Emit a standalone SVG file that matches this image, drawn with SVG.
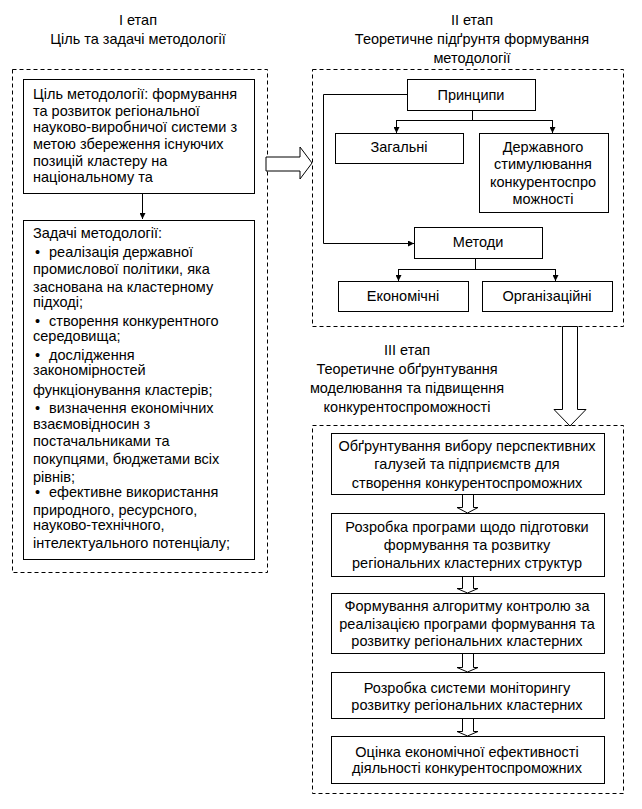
<svg xmlns="http://www.w3.org/2000/svg" width="642" height="809" viewBox="0 0 642 809">
<defs>
<style>
text{font-family:"Liberation Sans",Arial,sans-serif;font-size:14.5px;fill:#000}
.c{text-anchor:middle}
.box{fill:#fff;stroke:#000;stroke-width:1}
.dash{fill:none;stroke:#000;stroke-width:1;stroke-dasharray:4 3}
.ln{fill:none;stroke:#000;stroke-width:1}
.hol{fill:#fff;stroke:#000;stroke-width:1}
</style>
<marker id="ah" viewBox="0 0 10 10" refX="10" refY="5" markerWidth="6" markerHeight="6" orient="auto" markerUnits="userSpaceOnUse">
<path d="M0,0 L10,5 L0,10 z" fill="#000"/>
</marker>
</defs>
<rect width="642" height="809" fill="#fff"/>

<g id="stage1">
<text class="c" x="138" y="25">І етап</text>
<text class="c" x="138" y="44">Ціль та задачі методології</text>
<rect class="dash" x="12.5" y="69.5" width="255" height="503"/>
</g>

<g id="stage2">
<text class="c" x="472" y="25">ІІ етап</text>
<text class="c" x="472" y="44">Теоретичне підґрунтя формування</text>
<text class="c" x="472" y="63">методології</text>
<rect class="dash" x="312.5" y="69.5" width="311" height="257"/>
</g>

<g id="stage3">
<text class="c" x="407" y="355">ІІІ етап</text>
<text class="c" x="407" y="374">Теоретичне обґрунтування</text>
<text class="c" x="407" y="393">моделювання та підвищення</text>
<text class="c" x="407" y="412">конкурентоспроможності</text>
<rect class="dash" x="312.5" y="425.5" width="311" height="368"/>
</g>

<g id="connectors">
<path class="ln" d="M142.5,193 V219" marker-end="url(#ah)"/>
<path class="hol" d="M266,157 H300 V147 L312,163 L300,179 V171 H266 Z"/>
<path class="ln" d="M472.5,110 V120.5 M396.5,120.5 H552.5"/>
<path class="ln" d="M396.5,120 V133" marker-end="url(#ah)"/>
<path class="ln" d="M552.5,120 V133" marker-end="url(#ah)"/>
<path class="ln" d="M407,94.5 H323.5 V243.5 H414" marker-end="url(#ah)"/>
<path class="ln" d="M475.5,258 V269.5 M398.5,269.5 H555.5"/>
<path class="ln" d="M398.5,269 V281" marker-end="url(#ah)"/>
<path class="ln" d="M555.5,269 V281" marker-end="url(#ah)"/>
<path class="hol" d="M562.5,326.5 H577.5 V409.5 H586 L570,426 L554,409.5 H562.5 Z"/>
<path class="hol" d="M462.5,494 H473.5 V507.5 H478 L467.5,513 L457,507.5 H462.5 Z"/>
<path class="hol" d="M462.5,576 H473.5 V588.5 H478 L467.5,593 L457,588.5 H462.5 Z"/>
<path class="hol" d="M462.5,653 H473.5 V667.5 H478 L467.5,672 L457,667.5 H462.5 Z"/>
<path class="hol" d="M462.5,718 H473.5 V731.5 H478 L467.5,736 L457,731.5 H462.5 Z"/>
</g>

<g id="goal">
<rect class="box" x="23.5" y="79.5" width="231" height="114"/>
<text x="33" y="99">Ціль методології: формування</text>
<text x="33" y="116">та розвиток регіональної</text>
<text x="33" y="132">науково-виробничої системи з</text>
<text x="33" y="149">метою збереження існуючих</text>
<text x="33" y="166">позицій кластеру на</text>
<text x="33" y="182">національному та</text>
</g>

<g id="tasks">
<rect class="box" x="23.5" y="220.5" width="231" height="339"/>
<text x="33" y="238">Задачі методології:</text>
<text x="35" y="257">•<tspan x="49">реалізація державної</tspan></text>
<text x="33" y="274">промислової політики, яка</text>
<text x="33" y="292">заснована на кластерному</text>
<text x="33" y="307">підході;</text>
<text x="35" y="326">•<tspan x="49">створення конкурентного</tspan></text>
<text x="33" y="341">середовища;</text>
<text x="35" y="360">•<tspan x="49">дослідження</tspan></text>
<text x="33" y="375">закономірностей</text>
<text x="33" y="395">функціонування кластерів;</text>
<text x="35" y="413">•<tspan x="49">визначення економічних</tspan></text>
<text x="33" y="429">взаємовідносин з</text>
<text x="33" y="446">постачальниками та</text>
<text x="33" y="464">покупцями, бюджетами всіх</text>
<text x="33" y="482">рівнів;</text>
<text x="35" y="497">•<tspan x="49">ефективне використання</tspan></text>
<text x="33" y="515">природного, ресурсного,</text>
<text x="33" y="530">науково-технічного,</text>
<text x="33" y="548">інтелектуального потенціалу;</text>
</g>

<g id="principles">
<rect class="box" x="407.5" y="79.5" width="128" height="31"/>
<text class="c" x="471" y="100">Принципи</text>
</g>
<g id="general">
<rect class="box" x="335.5" y="133.5" width="128" height="30"/>
<text class="c" x="399" y="152">Загальні</text>
</g>
<g id="state">
<rect class="box" x="479.5" y="133.5" width="129" height="79"/>
<text class="c" x="543" y="152">Державного</text>
<text class="c" x="543" y="169">стимулювання</text>
<text class="c" x="543" y="187">конкурентоспро</text>
<text class="c" x="543" y="204">можності</text>
</g>
<g id="methods">
<rect class="box" x="414.5" y="227.5" width="128" height="31"/>
<text class="c" x="478" y="247">Методи</text>
</g>
<g id="economic">
<rect class="box" x="338.5" y="281.5" width="130" height="30"/>
<text class="c" x="403" y="301">Економічні</text>
</g>
<g id="organizational">
<rect class="box" x="482.5" y="281.5" width="130" height="30"/>
<text class="c" x="547" y="301">Організаційні</text>
</g>

<g id="s1">
<rect class="box" x="331.5" y="433.5" width="273" height="61"/>
<text class="c" x="467" y="451">Обґрунтування вибору перспективних</text>
<text class="c" x="467" y="469">галузей та підприємств для</text>
<text class="c" x="467" y="488">створення конкурентоспроможних</text>
</g>
<g id="s2">
<rect class="box" x="331.5" y="513.5" width="273" height="63"/>
<text class="c" x="467" y="532">Розробка програми щодо підготовки</text>
<text class="c" x="467" y="550">формування та розвитку</text>
<text class="c" x="467" y="568">регіональних кластерних структур</text>
</g>
<g id="s3">
<rect class="box" x="331.5" y="593.5" width="273" height="60"/>
<text class="c" x="467" y="611">Формування алгоритму контролю за</text>
<text class="c" x="467" y="629">реалізацією програми формування та</text>
<text class="c" x="467" y="646">розвитку регіональних кластерних</text>
</g>
<g id="s4">
<rect class="box" x="331.5" y="672.5" width="273" height="46"/>
<text class="c" x="467" y="693">Розробка системи моніторингу</text>
<text class="c" x="467" y="710">розвитку регіональних кластерних</text>
</g>
<g id="s5">
<rect class="box" x="331.5" y="736.5" width="273" height="47"/>
<text class="c" x="467" y="757">Оцінка економічної ефективності</text>
<text class="c" x="467" y="773">діяльності конкурентоспроможних</text>
</g>
</svg>
